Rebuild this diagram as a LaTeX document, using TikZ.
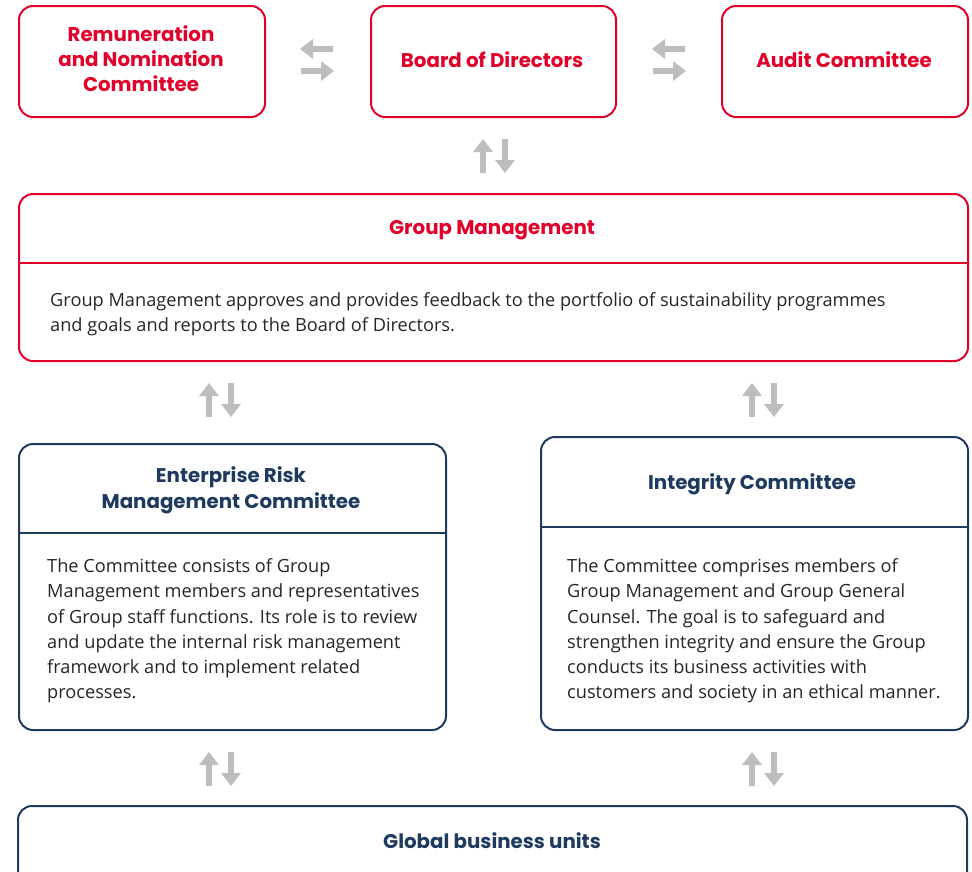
\documentclass[tikz,border=0pt]{standalone}
\usepackage{fontspec}
\setmainfont{Open Sans}
\newfontfamily\titlefont{Poppins}
\usetikzlibrary{arrows.meta}
\definecolor{brandred}{HTML}{E1002A}
\definecolor{navy}{HTML}{1E3A5F}
\definecolor{arrowgray}{HTML}{BDBDBD}
\begin{document}
\begin{tikzpicture}[x=1pt,y=-1pt,
  redbox/.style={draw=brandred, line width=2pt, rounded corners=14pt, rectangle, anchor=north west, inner sep=0pt},
  navybox/.style={draw=navy, line width=2pt, rounded corners=14pt, rectangle, anchor=north west, inner sep=0pt},
  redtitle/.style={text=brandred, font=\titlefont\fontsize{19.8}{25}\selectfont\bfseries, align=center, inner sep=0pt},
  navytitle/.style={text=navy, font=\titlefont\fontsize{19.8}{26}\selectfont\bfseries, align=center, inner sep=0pt},
  bodytext/.style={text=black!85, font=\fontsize{18.2}{25.2}\selectfont, align=left, anchor=west, inner sep=0pt},
  xarrow/.style={draw=arrowgray, line width=5.5pt, -{Triangle[length=13pt,width=19pt]}}
]
\useasboundingbox (0,0) rectangle (972,871);
% top row
\node[redbox, minimum width=246pt, minimum height=111pt] (rem) at (18,5) {};
\node[redbox, minimum width=245pt, minimum height=111pt] (board) at (370,5) {};
\node[redbox, minimum width=246pt, minimum height=111pt] (audit) at (721,5) {};
\node[redtitle] (remt) at (141,59) {Remuneration\\and Nomination\\Committee};
\node[redtitle] (boardt) at (492,60) {Board of Directors};
\node[redtitle] (auditt) at (844,60) {Audit Committee};
% group management
\node[redbox, minimum width=949pt, minimum height=167pt] (gm) at (18,193) {};
\draw[brandred, line width=2pt] (gm.west |- 0,263) coordinate (gml) -- (gm.east |- 0,263) coordinate (gmr);
\node[redtitle] (gmt) at (492,230.5) {Group Management};
\node[bodytext] (gmb) at (50,314.5) {Group Management approves and provides feedback to the portfolio of sustainability programmes\\and goals and reports to the Board of Directors.};
% ERM
\node[navybox, minimum width=427pt, minimum height=286pt] (erm) at (18,443) {};
\draw[navy, line width=2pt] (erm.west |- 0,533) coordinate (ermL) -- (erm.east |- 0,533) coordinate (ermR);
\node[navytitle] (ermt) at (231,490.5) {Enterprise Risk\\Management Committee};
\node[bodytext] (ermb) at (47,631) {The Committee consists of Group\\Management members and representatives\\of Group staff functions. Its role is to review\\and update the internal risk management\\framework and to implement related\\processes.};
% Integrity
\node[navybox, minimum width=427pt, minimum height=293pt] (integ) at (540,436) {};
\draw[navy, line width=2pt] (integ.west |- 0,527) coordinate (intL) -- (integ.east |- 0,527) coordinate (intR);
\node[navytitle] (integt) at (752,484) {Integrity Committee};
\node[bodytext] (integb) at (567,631) {The Committee comprises members of\\Group Management and Group General\\Counsel. The goal is to safeguard and\\strengthen integrity and ensure the Group\\conducts its business activities with\\customers and society in an ethical manner.};
% Global business units
\draw[navy, line width=2pt, rounded corners=14pt] (18,880) -- (18,806) -- (967,806) -- (967,880);
\node[navytitle] (gbu) at (492,841) {Global business units};
% arrows
\coordinate (h1a) at (333,49); \coordinate (h1b) at (300,49);
\coordinate (h1c) at (301,71); \coordinate (h1d) at (334,71);
\draw[xarrow] (h1a) -- (h1b);
\draw[xarrow] (h1c) -- (h1d);
\coordinate (h2a) at (685,49); \coordinate (h2b) at (652,49);
\coordinate (h2c) at (653,71); \coordinate (h2d) at (686,71);
\draw[xarrow] (h2a) -- (h2b);
\draw[xarrow] (h2c) -- (h2d);
\foreach \cx/\top/\name in {483/139/v1, 209/383/v2, 752/383/v3, 209/752/v4, 752/752/v5}{
  \coordinate (\name u1) at (\cx,\top+34);
  \coordinate (\name u2) at (\cx,\top);
  \coordinate (\name d1) at (\cx+22,\top);
  \coordinate (\name d2) at (\cx+22,\top+34);
  \draw[xarrow] (\name u1) -- (\name u2);
  \draw[xarrow] (\name d1) -- (\name d2);
}
\end{tikzpicture}
\end{document}
